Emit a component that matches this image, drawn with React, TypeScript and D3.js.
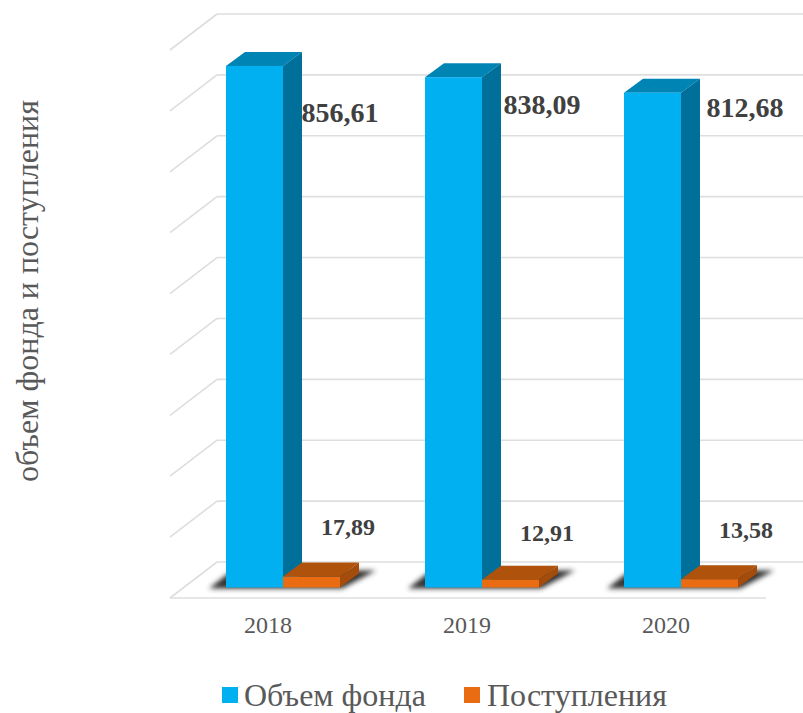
import React from "react";
import * as d3 from "d3";

const categories = ["2018", "2019", "2020"];
const fundValues = [856.61, 838.09, 812.68];
const inflowValues = [17.89, 12.91, 13.58];
const fundLabels = ["856,61", "838,09", "812,68"];
const inflowLabels = ["17,89", "12,91", "13,58"];
const gridValues = d3.range(0, 901, 100);
const yTitle = "объем фонда и поступления";
const legendNames = ["Объем фонда", "Поступления"];

const W = 803, H = 713;
const FONT = "'Liberation Serif', serif";
const x = d3.scaleBand<string>().domain(categories).range([226, 823]).paddingInner(0).paddingOuter(0);
const BAR_W = 57;
const DX = 19, DY = 14;
// height of a value on the bars' front plane
const yBar = d3.scaleLinear().domain([0, 900]).range([587.5, 39.5]);
// back wall
const yWall = d3.scaleLinear().domain([0, 900]).range([562, 14]);
// label anchors
const fundLabelX = [340, 542, 745];
const fundLabelY = [122, 114, 117];

function pts(p: number[][]) { return p.map((d) => d.join(",")).join(" "); }

function Bar3D({ x0, value, front, top, side }: { x0: number; value: number; front: string; top: string; side: string }) {
  const y0 = yBar(0), y1 = yBar(value), x1 = x0 + BAR_W;
  return (
    <g>
      <polygon points={pts([[x0, y1], [x1, y1], [x1 + DX, y1 - DY], [x0 + DX, y1 - DY]])} fill={top} />
      <polygon points={pts([[x1, y0], [x1, y1], [x1 + DX, y1 - DY], [x1 + DX, y0 - DY]])} fill={side} />
      <rect x={x0} y={y1} width={BAR_W} height={y0 - y1} fill={front} />
    </g>
  );
}

export default function App() {
  const lineC = "#dedede";
  return (
    <svg width={W} height={H} style={{ position: "absolute", left: 0, top: 0, background: "#fff" }} fontFamily={FONT}>
      <defs>
        <filter id="blur" x="-30%" y="-100%" width="160%" height="300%">
          <feGaussianBlur stdDeviation="2.6" />
        </filter>
      </defs>
      {gridValues.map((v) => (
        <g key={v} stroke={lineC} strokeWidth={1.6} fill="none">
          <line x1={217} x2={W} y1={yWall(v)} y2={yWall(v)} />
          <line x1={217} x2={170} y1={yWall(v)} y2={yWall(v) + 36} />
        </g>
      ))}
      <line x1={170} x2={766} y1={yWall(0) + 36} y2={yWall(0) + 36} stroke={lineC} strokeWidth={1.6} />

      {categories.map((c) => {
        const x0 = x(c)!;
        const x2 = x0 + BAR_W * 2;
        return (
          <polygon key={c} filter="url(#blur)" fill="#333"
            points={pts([[x0 - 17, yBar(0) + 1], [x2 + 2, yBar(0) + 1], [x2 + 36, yBar(0) - 17], [x0 + 6, yBar(0) - 17]])} />
        );
      })}

      {categories.map((c, i) => {
        const x0 = x(c)!;
        return (
          <g key={c}>
            <Bar3D x0={x0} value={fundValues[i]} front="#00b0f0" top="#0084b4" side="#00709b" />
            <Bar3D x0={x0 + BAR_W} value={inflowValues[i]} front="#e96c12" top="#ae520c" side="#a34c0b" />
            <text x={fundLabelX[i]} y={fundLabelY[i]} textAnchor="middle" fontSize={28} fontWeight="bold" fill="#404040">{fundLabels[i]}</text>
            <text x={x0 + 122} y={[535, 541, 538][i]} textAnchor="middle" fontSize={24} fontWeight="bold" fill="#404040">{inflowLabels[i]}</text>
            <text x={x0 + 42} y={633} textAnchor="middle" fontSize={24} fill="#595959">{c}</text>
          </g>
        );
      })}

      <text transform="translate(38,291) rotate(-90)" textAnchor="middle" fontSize={32} fill="#595959">{yTitle}</text>

      <rect x={222} y={687} width={16} height={16} fill="#00b0f0" />
      <text x={244} y={706} fontSize={32} fill="#595959">{legendNames[0]}</text>
      <rect x={464} y={687} width={16} height={16} fill="#e96c12" />
      <text x={487} y={706} fontSize={32} fill="#595959">{legendNames[1]}</text>
    </svg>
  );
}
